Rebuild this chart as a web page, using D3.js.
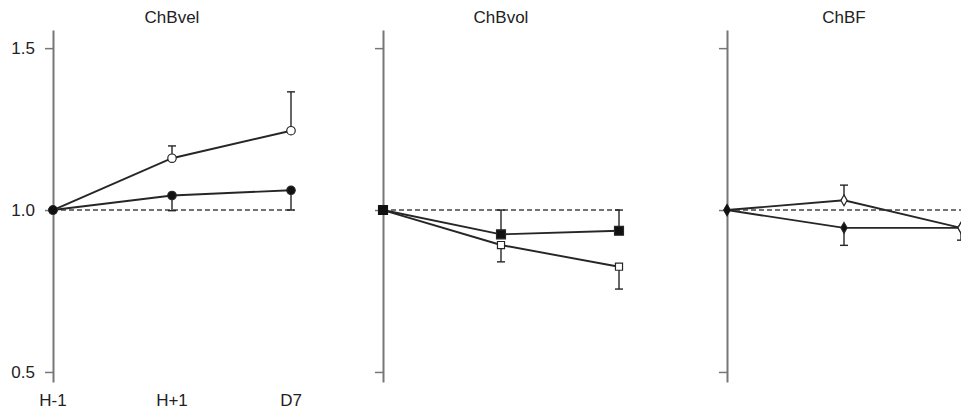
<!DOCTYPE html>
<html>
<head>
<meta charset="utf-8">
<script src="https://cdn.jsdelivr.net/npm/d3@7"></script>
<style>
  body { margin: 0; background: #fff; }
  svg { display: block; font-family: "Liberation Sans", Arial, sans-serif; }
</style>
</head>
<body>
<div id="chart"></div>
<script>
// data (ratio to baseline H-1)
const categories = ["H-1", "H+1", "D7"];
const panelTitles = ["ChBvel", "ChBvol", "ChBF"];
const yTicks = [0.5, 1.0, 1.5];

const velOpen = [1.0, 1.16, 1.245];
const velOpenErr = [0, 0.038, 0.12];     // drawn upward
const velFilled = [1.0, 1.045, 1.061];
const velFilledErr = [0, 0.047, 0.061];  // drawn downward

const volFilled = [1.0, 0.925, 0.936];
const volFilledErr = [0, 0.075, 0.064];  // upward
const volOpen = [1.0, 0.892, 0.825];
const volOpenErr = [0, 0.052, 0.069];    // downward

const bfOpen = [1.0, 1.03, 0.945];
const bfOpenErr = [0, 0.047, 0];         // upward
const bfFilled = [1.0, 0.945, 0.945];
const bfFilledErr = [0, 0.054, 0.038];   // downward

const W = 961, H = 411;
const panelX = [53, 383, 727];
const panelW = [238, 236, 234];

const panels = [
  { title: panelTitles[0], shape: "circle", labels: true, series: [
    { values: velFilled, err: velFilledErr, dir: -1, fill: true },
    { values: velOpen, err: velOpenErr, dir: 1, fill: false }
  ]},
  { title: panelTitles[1], shape: "square", labels: false, series: [
    { values: volOpen, err: volOpenErr, dir: -1, fill: false },
    { values: volFilled, err: volFilledErr, dir: 1, fill: true }
  ]},
  { title: panelTitles[2], shape: "diamond", labels: false, series: [
    { values: bfFilled, err: bfFilledErr, dir: -1, fill: true },
    { values: bfOpen, err: bfOpenErr, dir: 1, fill: false }
  ]}
];

const ink = "#262626";
const axisGrey = "#777";
const fontSize = "17px";

const svg = d3.select("#chart").append("svg")
  .attr("width", W)
  .attr("height", H);

const y = d3.scaleLinear().domain([0.469, 1.556]).range([382, 30]);

panels.forEach((p, i) => {
  const x = d3.scalePoint().domain(categories).range([panelX[i], panelX[i] + panelW[i]]);
  const g = svg.append("g");

  // title over the middle point
  g.append("text")
    .attr("x", x("H+1"))
    .attr("y", 23)
    .attr("text-anchor", "middle")
    .style("font-size", fontSize)
    .style("fill", "#222")
    .text(p.title);

  // baseline at 1.0
  g.append("line")
    .attr("x1", x("H-1")).attr("x2", x("D7") + 3)
    .attr("y1", y(1)).attr("y2", y(1))
    .attr("stroke", "#444")
    .attr("stroke-width", 1.5)
    .attr("stroke-dasharray", "5,3");

  const axis = d3.axisLeft(y)
    .tickValues(yTicks)
    .tickSize(8)
    .tickSizeOuter(0)
    .tickFormat(p.labels ? d3.format(".1f") : () => "");

  const ag = g.append("g")
    .attr("transform", `translate(${panelX[i]},0)`)
    .call(axis);
  ag.select(".domain").attr("stroke", axisGrey).attr("stroke-width", 2);
  ag.selectAll(".tick line").attr("stroke", axisGrey).attr("stroke-width", 1.5);
  ag.selectAll(".tick text")
    .attr("x", -18)
    .style("font-size", fontSize)
    .style("fill", "#222");

  if (p.labels) {
    g.selectAll(".xlab")
      .data(categories)
      .enter()
      .append("text")
      .attr("x", d => x(d))
      .attr("y", 406)
      .attr("text-anchor", "middle")
      .style("font-size", fontSize)
      .style("fill", "#222")
      .text(d => d);
  }

  const line = d3.line()
    .x((d, k) => x(categories[k]))
    .y(d => y(d));

  p.series.forEach(s => {
    // error bars (one-sided)
    s.values.forEach((v, k) => {
      if (!s.err[k]) return;
      const cx = x(categories[k]);
      const yEnd = y(v + s.dir * s.err[k]);
      g.append("line")
        .attr("x1", cx).attr("x2", cx)
        .attr("y1", y(v)).attr("y2", yEnd)
        .attr("stroke", ink).attr("stroke-width", 1.4);
      g.append("line")
        .attr("x1", cx - 4).attr("x2", cx + 4)
        .attr("y1", yEnd).attr("y2", yEnd)
        .attr("stroke", ink).attr("stroke-width", 1.4);
    });

    g.append("path")
      .datum(s.values)
      .attr("d", line)
      .attr("fill", "none")
      .attr("stroke", ink)
      .attr("stroke-width", 1.9);
  });

  const symType = p.shape === "circle" ? d3.symbolCircle
    : p.shape === "square" ? d3.symbolSquare : d3.symbolDiamond;

  // markers drawn last so they sit over the lines
  p.series.forEach(s => {
    const size = p.shape === "circle" ? 56 : p.shape === "square" ? (s.fill ? 80 : 50) : 34;
    g.selectAll(null)
      .data(s.values)
      .enter()
      .append("path")
      .attr("transform", (d, k) => `translate(${x(categories[k])},${y(d)})`)
      .attr("d", d3.symbol().type(symType).size(size))
      .attr("fill", s.fill ? "#111" : "#fff")
      .attr("stroke", ink)
      .attr("stroke-width", 1.2);
  });

  // the H-1 start point is filled in every panel
  g.append("path")
    .attr("transform", `translate(${x("H-1")},${y(1)})`)
    .attr("d", d3.symbol().type(symType)
      .size(p.shape === "square" ? 96 : p.shape === "circle" ? 56 : 36))
    .attr("fill", "#111");
});
</script>
</body>
</html>
